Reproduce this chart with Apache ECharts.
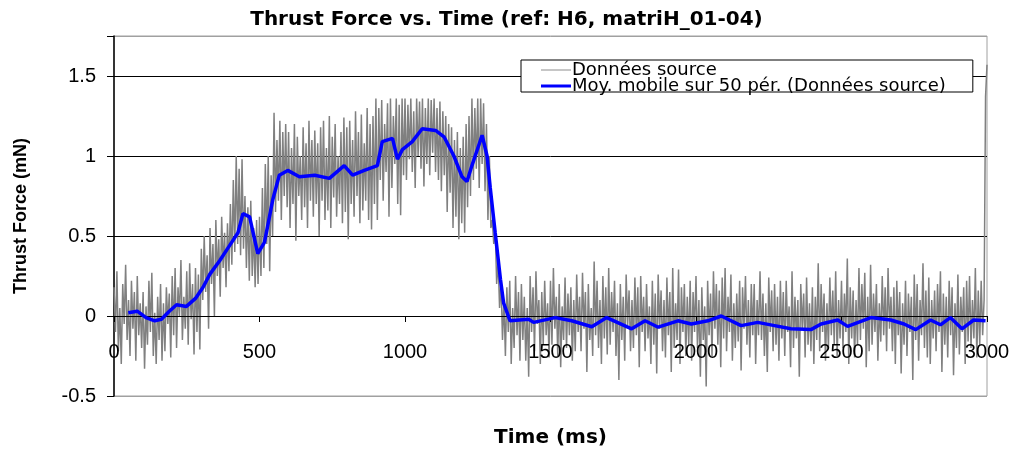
<!DOCTYPE html>
<html>
<head>
<meta charset="utf-8">
<script src="https://cdn.jsdelivr.net/npm/echarts@6/dist/echarts.min.js"></script>
<style>html,body{margin:0;padding:0;background:#fff}#c{width:1013px;height:452px}</style>
</head>
<body>
<div id="c"></div>
<script>
const srcStepMs = 5;
const srcValues = [
  0.18,-0.10,0.28,-0.22,0.05,-0.30,0.20,-0.05,0.32,-0.15,0.10,-0.25,0.22,-0.08,0.15,-0.28,0.25,-0.12,0.08,-0.20,
  0.15,-0.33,0.06,-0.18,0.22,-0.10,0.27,-0.25,0.02,-0.30,0.12,-0.15,0.20,-0.28,0.08,-0.22,0.18,-0.05,0.14,-0.26,
  0.25,-0.12,0.30,-0.20,0.18,0.00,0.35,-0.15,0.12,-0.08,0.28,-0.18,0.33,-0.02,0.20,-0.24,0.30,-0.10,0.26,-0.21,
  0.42,0.10,0.50,0.15,0.38,-0.08,0.55,0.20,0.45,0.00,0.60,0.25,0.48,0.12,0.62,0.30,0.52,0.18,0.58,0.28,
  0.70,0.32,0.85,0.40,1.00,0.45,0.92,0.38,0.98,0.42,0.75,0.30,0.68,0.22,0.72,0.25,0.55,0.18,0.60,0.20,
  0.62,0.25,0.80,0.30,0.95,0.45,1.00,0.28,0.88,0.50,1.27,0.65,1.10,0.72,1.22,0.60,1.15,0.75,1.20,0.68,
  1.15,0.55,1.05,0.70,1.20,0.47,1.12,0.75,1.00,0.60,1.18,0.68,1.08,0.55,1.22,0.72,1.10,0.62,1.16,0.70,
  1.08,0.50,1.18,0.72,1.22,0.60,1.05,0.66,1.25,0.55,1.12,0.74,1.20,0.62,1.00,0.70,1.15,0.58,1.24,0.65,
  1.18,0.48,1.22,0.70,1.10,0.62,1.28,0.75,1.15,0.58,1.26,0.66,1.08,0.72,1.30,0.60,1.20,0.54,1.25,0.70,
  1.36,0.60,1.30,0.85,1.35,0.72,1.20,0.90,1.33,0.62,1.36,0.80,1.25,0.95,1.36,0.70,1.32,0.63,1.36,0.88,
  1.36,0.85,1.32,0.98,1.36,0.90,1.28,0.80,1.36,1.00,1.34,0.92,1.36,0.81,1.30,0.95,1.36,0.88,1.35,1.02,
  1.36,0.90,1.30,0.85,1.34,0.78,1.28,0.88,1.25,0.65,1.20,0.77,1.18,0.55,1.10,0.62,1.15,0.48,1.05,0.58,
  1.12,0.52,1.20,0.68,1.25,0.75,1.36,0.85,1.30,0.92,1.36,0.80,1.36,0.95,1.33,0.78,1.20,0.60,1.00,0.55,
  0.60,0.45,0.55,0.20,0.35,0.05,0.22,-0.15,0.10,-0.25,0.18,-0.10,0.22,-0.30,0.05,-0.20,0.25,-0.12,0.15,-0.28,
  0.20,-0.15,0.12,-0.28,0.05,-0.38,0.25,-0.10,0.18,-0.22,0.28,-0.05,0.10,-0.30,0.15,-0.18,0.22,-0.12,0.08,-0.26,
  0.22,-0.18,0.30,-0.08,0.12,-0.25,0.20,-0.32,0.06,-0.15,0.24,-0.20,0.14,-0.12,0.18,-0.28,0.10,-0.22,0.26,-0.10,
  0.12,-0.22,0.27,-0.08,0.15,-0.35,0.20,-0.15,0.05,-0.25,0.34,-0.12,0.22,-0.20,0.10,-0.30,0.25,-0.14,0.18,-0.24,
  0.30,-0.18,0.15,-0.10,0.22,-0.25,0.08,-0.40,0.20,-0.15,0.12,-0.28,0.26,-0.06,0.16,-0.22,0.10,-0.20,0.24,-0.12,
  0.18,-0.32,0.25,-0.10,0.12,-0.22,0.20,-0.14,0.06,-0.30,0.22,-0.18,0.14,-0.36,0.26,-0.08,0.16,-0.22,0.10,-0.26,
  0.24,-0.12,0.15,-0.35,0.30,-0.20,0.08,-0.15,0.29,-0.30,0.18,-0.10,0.20,-0.25,0.12,-0.18,0.22,-0.28,0.15,-0.10,
  0.25,-0.20,0.10,-0.38,0.18,-0.15,0.06,-0.44,0.22,-0.12,0.14,-0.25,0.28,-0.08,0.20,-0.18,0.16,-0.32,0.24,-0.14,
  0.30,-0.22,0.12,-0.10,0.26,-0.28,0.08,-0.20,0.14,-0.16,0.22,-0.34,0.18,-0.08,0.25,-0.18,0.10,-0.26,0.20,-0.12,
  0.20,-0.30,0.10,-0.12,0.28,-0.15,0.14,-0.25,0.08,-0.35,0.24,-0.10,0.16,-0.22,0.20,-0.18,0.12,-0.28,0.22,-0.14,
  0.15,-0.25,0.22,-0.10,0.06,-0.32,0.28,-0.20,0.12,-0.14,0.10,-0.38,0.20,-0.08,0.14,-0.26,0.24,-0.18,0.08,-0.22,
  0.18,-0.30,0.12,-0.15,0.33,-0.22,0.20,-0.10,0.14,-0.28,0.08,-0.20,0.24,-0.12,0.16,-0.18,0.28,-0.25,0.10,-0.14,
  0.22,-0.20,0.14,-0.10,0.36,-0.30,0.18,-0.14,0.16,-0.26,0.10,-0.18,0.30,-0.15,0.20,-0.08,0.27,-0.32,0.12,-0.22,
  0.32,-0.18,0.14,-0.10,0.20,-0.28,0.08,-0.16,0.25,-0.12,0.18,-0.22,0.30,-0.08,0.12,-0.22,0.18,-0.30,0.22,-0.12,
  0.15,-0.36,0.08,-0.18,0.22,-0.25,0.14,-0.10,0.12,-0.40,0.26,-0.15,0.20,-0.28,0.10,-0.12,0.33,-0.20,0.16,-0.26,
  0.24,-0.30,0.10,-0.14,0.16,-0.22,0.20,-0.10,0.28,-0.35,0.14,-0.18,0.12,-0.26,0.22,-0.12,0.18,-0.37,0.08,-0.20,
  0.26,-0.24,0.12,-0.10,0.18,-0.30,0.22,-0.16,0.25,-0.20,0.10,-0.14,0.30,-0.26,0.16,-0.18,0.22,-0.12,0.10,1.37,
  1.57
];
// Moving average (50 periods)
const maTimes = [49,80,110,140,163,190,215,249,280,306,329,363,397,426,443,466,494,517,546,568,597,637,690,740,791,820,860,905,922,957,974,991,1025,1059,1105,1134,1168,1196,1213,1230,1265,1282,1293,1310,1328,1339,1361,1425,1442,1516,1573,1642,1693,1779,1825,1870,1938,1984,2041,2087,2155,2212,2270,2326,2395,2430,2487,2521,2601,2669,2715,2755,2806,2840,2874,2914,2954,2995];
const maValues = [0.02,0.03,-0.01,-0.03,-0.02,0.03,0.07,0.06,0.11,0.18,0.26,0.345,0.44,0.52,0.64,0.62,0.39,0.46,0.73,0.88,0.91,0.87,0.88,0.86,0.94,0.88,0.91,0.94,1.09,1.11,0.98,1.04,1.09,1.17,1.16,1.12,1.0,0.87,0.84,0.94,1.13,1.0,0.8,0.52,0.23,0.08,-0.03,-0.02,-0.04,-0.01,-0.03,-0.067,-0.01,-0.08,-0.03,-0.07,-0.03,-0.05,-0.03,0.0,-0.06,-0.04,-0.06,-0.08,-0.085,-0.05,-0.025,-0.065,-0.01,-0.025,-0.05,-0.085,-0.025,-0.055,-0.01,-0.08,-0.025,-0.03];
const yTicks = [-0.5, 0, 0.5, 1, 1.5];
const yMax = 1.75;
const xTicks = [0, 500, 1000, 1500, 2000, 2500, 3000];
const seriesNames = ['Données source', 'Moy. mobile sur 50 pér. (Données source)'];

const srcData = srcValues.map((v, i) => [i * srcStepMs, v]);
const maData = maTimes.map((t, i) => [t, maValues[i]]);

const chart = echarts.init(document.getElementById('c'), null, {renderer: 'canvas'});
chart.setOption({
  animation: false,
  backgroundColor: '#ffffff',
  title: {
    text: 'Thrust Force vs. Time (ref: H6, matriH_01-04)',
    left: 'center', top: 5,
    textStyle: {fontFamily: 'DejaVu Sans', fontWeight: 'bold', fontSize: 20, color: '#000'}
  },
  legend: {
    orient: 'vertical', left: 521, top: 60,
    data: [
      {name: seriesNames[0], icon: 'path://M0,0 H30 V1.2 H0 Z'},
      {name: seriesNames[1], icon: 'path://M0,0 H30 V3 H0 Z'}
    ],
    backgroundColor: '#ffffff', borderColor: '#000', borderWidth: 1, borderRadius: 0,
    padding: [1, 27, -3, 20], itemGap: -2, itemWidth: 30, itemHeight: 14,
    textStyle: {fontFamily: 'DejaVu Sans', fontSize: 18, color: '#000', padding: [0, 0, 0, -4]},
    z: 10
  },
  grid: {left: 114, right: 26, top: 36, bottom: 56, show: true, borderColor: '#a0a0a0', borderWidth: 1,
    containLabel: false, outerBoundsMode: 'none'},
  xAxis: {
    type: 'value', min: xTicks[0], max: xTicks[xTicks.length - 1], interval: xTicks[1] - xTicks[0],
    z: 3,
    name: 'Time (ms)', nameLocation: 'middle', nameGap: 112,
    nameTextStyle: {fontFamily: 'DejaVu Sans', fontWeight: 'bold', fontSize: 20, color: '#000'},
    axisLine: {onZero: false, lineStyle: {color: '#000', width: 1}},
    offset: -80,
    axisTick: {show: true, length: 6, lineStyle: {color: '#000'}},
    axisLabel: {fontFamily: 'Liberation Sans', fontSize: 20, color: '#000', margin: 26,
      formatter: v => String(v)},
    splitLine: {show: false}
  },
  yAxis: {
    type: 'value', min: yTicks[0], max: yMax, interval: yTicks[1] - yTicks[0],
    name: 'Thrust Force (mN)', nameLocation: 'middle', nameGap: 84,
    nameTextStyle: {fontFamily: 'Liberation Sans', fontWeight: 'bold', fontSize: 18, color: '#000'},
    axisLine: {show: true, lineStyle: {color: '#000', width: 1.5}},
    axisTick: {show: true, length: 7, lineStyle: {color: '#000'}},
    axisLabel: {fontFamily: 'Liberation Sans', fontSize: 20, color: '#000', margin: 18,
      formatter: v => (yTicks.indexOf(v) >= 0 ? String(v) : '')},
    splitLine: {show: true, lineStyle: {color: ['#a0a0a0', '#000', '#000', '#000', '#000', '#a0a0a0'], width: 1}}
  },
  series: [
    {
      name: seriesNames[0], type: 'line', data: srcData, symbol: 'none',
      lineStyle: {color: '#808080', width: 1.5}, itemStyle: {color: '#a0a0a0'},
      z: 2
    },
    {
      name: seriesNames[1], type: 'line', data: maData, symbol: 'none',
      lineStyle: {color: '#0000ff', width: 3.5}, itemStyle: {color: '#0000ff'},
      z: 4
    }
  ]
});
</script>
</body>
</html>
